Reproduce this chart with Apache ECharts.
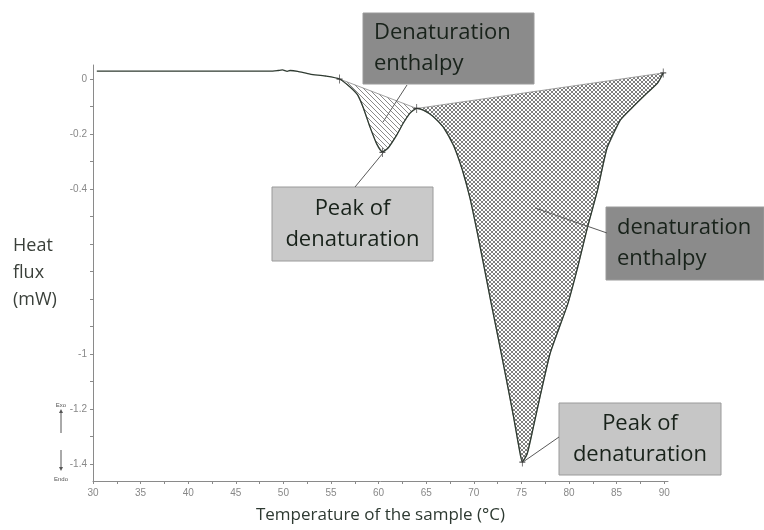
<!DOCTYPE html>
<html>
<head>
<meta charset="utf-8">
<script src="https://cdn.jsdelivr.net/npm/echarts@6/dist/echarts.min.js"></script>
<style>
  html, body { margin: 0; padding: 0; background: #fff; }
  #chart { width: 764px; height: 530px; }
</style>
</head>
<body>
<div id="chart"></div>
<script>
// DSC trace: heat flux (mW) against sample temperature (°C)
const temps = [30.4, 35, 40, 45, 48.6, 49.4, 49.9, 50.4, 50.7, 51.5, 52.8, 54.4, 55.9,
  57.0, 57.8, 58.4, 59.1, 59.8, 60.4, 61.0, 61.9, 62.6, 63.3, 64.0,
  64.7, 65.7, 66.8, 67.9, 68.8, 69.6, 70.4, 71.1, 71.8, 72.5, 73.1, 73.7, 74.2, 74.7, 75.1,
  75.6, 76.1, 77.0, 78.0, 79.0, 79.9, 80.9, 81.9, 83.0, 84.0, 85.4, 86.7, 88.2, 89.3, 89.9]
const flux = [0.029, 0.029, 0.029, 0.029, 0.029, 0.031, 0.033, 0.028, 0.031, 0.028, 0.018, 0.011, 0.0,
  -0.029, -0.058, -0.105, -0.175, -0.236, -0.265, -0.251, -0.204, -0.16, -0.124, -0.107,
  -0.113, -0.135, -0.175, -0.244, -0.331, -0.433, -0.564, -0.687, -0.811, -0.931, -1.036, -1.142, -1.233, -1.331, -1.393,
  -1.364, -1.291, -1.149, -1.0, -0.902, -0.815, -0.687, -0.545, -0.404, -0.251, -0.149, -0.102, -0.051, -0.015, 0.022]

// integration limits of the two peaks
const peakStart = [55.9, 64.0]
const peakEnd = [64.0, 89.9]

// small + marks on the trace
const markT = [55.9, 60.4, 64.0, 75.1, 89.9]
const markV = [0.0, -0.267, -0.107, -1.393, 0.022]

const xLabels = [30, 35, 40, 45, 50, 55, 60, 65, 70, 75, 80, 85, 90]
const xTicks = [30, 32.5, 35, 37.5, 40, 42.5, 45, 47.5, 50, 52.5, 55, 57.5, 60, 62.5, 65, 67.5, 70, 72.5, 75, 77.5, 80, 82.5, 85, 87.5, 90]
const yLabels = [0, -0.2, -0.4, -1, -1.2, -1.4]
const yTicks = [0, -0.1, -0.2, -0.3, -0.4, -0.5, -0.6, -0.7, -0.8, -0.9, -1, -1.1, -1.2, -1.3, -1.4]

function pattern(size, draw) {
  const c = document.createElement('canvas')
  c.width = c.height = size
  const g = c.getContext('2d')
  g.fillStyle = '#fff'
  g.fillRect(0, 0, size, size)
  draw(g, size)
  return { image: c, repeat: 'repeat' }
}
const hatch = pattern(5, (g, n) => {
  g.fillStyle = '#8a8a8a'
  for (let i = 0; i < n; i++) g.fillRect(i, i, 1, 1)
})
const cross = pattern(4, (g, n) => {
  g.fillStyle = '#7e7e7e'
  for (let i = 0; i < n; i++) {
    g.fillRect(i, i, 1, 1)
    g.fillRect(n - 1 - i, i, 1, 1)
  }
})

const textFont = '"Open Sans", "Noto Sans", sans-serif'
const tickFont = '"Liberation Sans Narrow", "Liberation Sans", sans-serif'

function box(x, y, w, h, fill, lines, align) {
  return {
    type: 'group',
    children: [
      { type: 'rect', shape: { x: x, y: y, width: w, height: h }, style: { fill: fill, stroke: '#9a9a9a', lineWidth: 1 } },
      {
        type: 'text',
        x: align === 'center' ? x + w / 2 : x + 11,
        y: y + h / 2,
        style: {
          text: lines.join('\n'),
          font: '22px ' + textFont,
          fill: '#18221a',
          lineHeight: 31,
          align: align,
          verticalAlign: 'middle'
        }
      }
    ]
  }
}
function leader(x1, y1, x2, y2) {
  return { type: 'line', shape: { x1: x1, y1: y1, x2: x2, y2: y2 }, style: { stroke: '#5a5a5a', lineWidth: 1 }, z: 10 }
}

const chart = echarts.init(document.getElementById('chart'))
chart.setOption({
  animation: false,
  backgroundColor: '#fff',
  grid: { left: 93, right: 96, top: 65, bottom: 49 },
  xAxis: {
    type: 'value',
    min: 30,
    max: 90.4,
    name: 'Temperature of the sample (°C)',
    nameLocation: 'middle',
    nameGap: 26,
    nameTextStyle: { fontFamily: textFont, fontSize: 17, color: '#2e3a32' },
    axisLine: { onZero: false, lineStyle: { color: '#8a8a8a' } },
    axisTick: { customValues: xTicks, length: 3, lineStyle: { color: '#8a8a8a' } },
    axisLabel: { customValues: xLabels, color: '#888', fontFamily: tickFont, fontSize: 10, margin: 7 },
    splitLine: { show: false }
  },
  yAxis: {
    type: 'value',
    min: -1.462,
    max: 0.051,
    name: 'Heat\nflux\n(mW)',
    nameLocation: 'middle',
    nameRotate: 0,
    nameGap: 80,
    nameTextStyle: { fontFamily: textFont, fontSize: 18, color: '#3a403a', align: 'left', lineHeight: 27 },
    axisLine: { show: true, lineStyle: { color: '#8a8a8a' } },
    axisTick: { show: true, customValues: yTicks, length: 3, lineStyle: { color: '#8a8a8a' } },
    axisLabel: { customValues: yLabels, color: '#888', fontFamily: tickFont, fontSize: 10, margin: 6 },
    splitLine: { show: false }
  },
  series: [
    {
      type: 'custom',
      silent: true,
      z: 1,
      data: peakStart.map(s => [s, 0]),
      encode: { x: 0, y: 1 },
      renderItem: (params, api) => {
        const i = params.dataIndex
        const pts = []
        temps.forEach((t, k) => {
          if (t >= peakStart[i] - 1e-9 && t <= peakEnd[i] + 1e-9) pts.push(api.coord([t, flux[k]]))
        })
        return {
          type: 'polygon',
          shape: { points: pts },
          style: { fill: i === 0 ? hatch : cross, stroke: '#8a8a8a', lineWidth: 0.8 }
        }
      }
    },
    {
      type: 'line',
      z: 3,
      data: temps.map((t, k) => [t, flux[k]]),
      symbol: 'none',
      smooth: 0.2,
      lineStyle: { color: '#2f3b31', width: 1.3 }
    },
    {
      type: 'scatter',
      z: 4,
      data: markT.map((t, k) => [t, markV[k]]),
      symbol: 'path://M5,0L5,10M1,5L9,5',
      symbolSize: [6, 9],
      itemStyle: { color: 'none', borderColor: '#333', borderWidth: 1 },
      silent: true
    }
  ],
  graphic: [
    box(363, 13, 171, 71, '#8b8b8b', ['Denaturation', 'enthalpy'], 'left'),
    box(272, 187, 161, 74, '#c9c9c9', ['Peak of', 'denaturation'], 'center'),
    box(606, 207, 158, 73, '#8b8b8b', ['denaturation', 'enthalpy'], 'left'),
    box(559, 403, 162, 72, '#c6c6c6', ['Peak of', 'denaturation'], 'center'),
    leader(407, 85, 383, 122),
    leader(355, 187, 383, 153),
    leader(607, 233, 535, 208),
    leader(559, 437, 523, 462),
    // exo / endo direction marks
    { type: 'text', x: 61, y: 405, style: { text: 'Exo', font: '6px ' + tickFont, fill: '#555', align: 'center', verticalAlign: 'middle' } },
    { type: 'line', shape: { x1: 61, y1: 411, x2: 61, y2: 433 }, style: { stroke: '#555', lineWidth: 1 } },
    { type: 'polygon', shape: { points: [[59, 413], [63, 413], [61, 409]] }, style: { fill: '#555' } },
    { type: 'line', shape: { x1: 61, y1: 450, x2: 61, y2: 469 }, style: { stroke: '#555', lineWidth: 1 } },
    { type: 'polygon', shape: { points: [[59, 467], [63, 467], [61, 471]] }, style: { fill: '#555' } },
    { type: 'text', x: 61, y: 479, style: { text: 'Endo', font: '6px ' + tickFont, fill: '#555', align: 'center', verticalAlign: 'middle' } }
  ]
})
</script>
</body>
</html>
